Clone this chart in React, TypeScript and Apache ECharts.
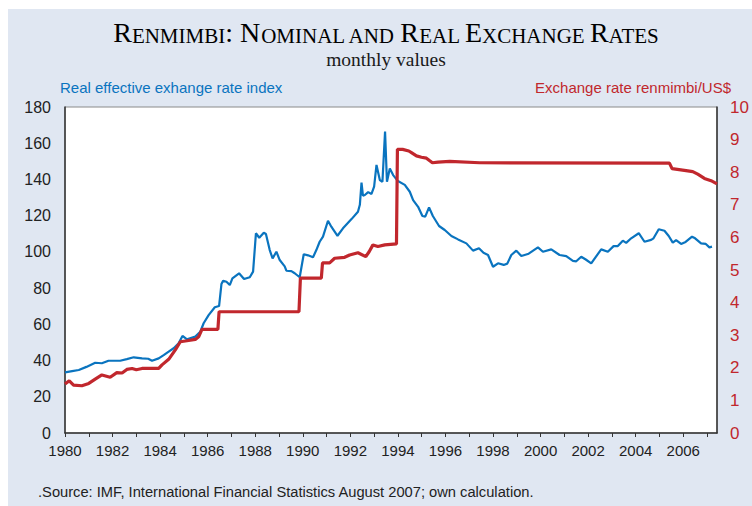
import React, { useEffect, useRef } from "react";
import * as echarts from "echarts";

const realRate: [number, number][] = [
  [1980.0, 33.5], [1980.3, 34.2], [1980.58, 34.8], [1980.9, 36.5], [1981.27, 38.8], [1981.55, 38.5],
  [1981.83, 39.9], [1982.32, 39.9], [1982.6, 40.8], [1982.89, 41.8], [1983.24, 41.2], [1983.5, 41.0],
  [1983.66, 39.9], [1983.94, 41.2], [1984.15, 43.0], [1984.36, 44.9], [1984.57, 46.8], [1984.78, 49.5],
  [1984.94, 53.6], [1985.13, 51.7], [1985.48, 53.2], [1985.69, 55.9], [1985.83, 60.6], [1986.04, 65.1],
  [1986.3, 69.4], [1986.48, 70.1], [1986.58, 82.3], [1986.65, 84.1], [1986.79, 83.5], [1986.93, 81.7],
  [1987.04, 85.4], [1987.32, 88.2], [1987.53, 85.0], [1987.77, 86.0], [1987.91, 89.1], [1988.03, 110.3],
  [1988.17, 107.8], [1988.36, 110.6], [1988.45, 109.9], [1988.61, 101.0], [1988.73, 96.4], [1988.89, 100.1],
  [1989.03, 95.5], [1989.24, 92.0], [1989.31, 89.6], [1989.52, 89.4], [1989.66, 88.2], [1989.87, 86.0],
  [1990.04, 98.7], [1990.22, 98.1], [1990.43, 97.0], [1990.57, 101.0], [1990.71, 105.6], [1990.85, 108.4],
  [1991.06, 117.2], [1991.2, 113.9], [1991.46, 108.9], [1991.69, 113.0], [1992.05, 118.1], [1992.32, 122.2],
  [1992.4, 126.0], [1992.47, 138.2], [1992.53, 131.0], [1992.61, 131.4], [1992.75, 133.0], [1992.89, 132.0],
  [1993.0, 136.0], [1993.1, 148.0], [1993.24, 139.7], [1993.35, 138.7], [1993.46, 166.4], [1993.54, 138.7],
  [1993.66, 146.1], [1993.8, 142.4], [1994.0, 139.1], [1994.29, 137.0], [1994.5, 133.2], [1994.64, 128.6],
  [1994.85, 124.9], [1995.03, 119.8], [1995.15, 119.5], [1995.31, 124.6], [1995.47, 119.8], [1995.73, 114.3],
  [1995.97, 112.1], [1996.25, 108.8], [1996.53, 106.9], [1996.88, 104.7], [1997.16, 100.7], [1997.41, 102.0],
  [1997.6, 99.5], [1997.79, 98.3], [1998.0, 91.8], [1998.21, 93.7], [1998.45, 92.8], [1998.6, 93.5],
  [1998.77, 98.3], [1998.98, 100.7], [1999.19, 97.7], [1999.5, 99.0], [1999.89, 102.5], [2000.1, 100.1],
  [2000.45, 101.4], [2000.8, 98.3], [2001.08, 97.7], [2001.36, 95.0], [2001.5, 94.8], [2001.71, 97.3],
  [2001.9, 95.8], [2002.13, 93.7], [2002.55, 101.4], [2002.83, 100.1], [2003.07, 103.2], [2003.25, 103.2],
  [2003.46, 106.2], [2003.6, 105.0], [2003.81, 107.5], [2004.13, 110.3], [2004.37, 105.6], [2004.65, 106.6],
  [2004.75, 107.5], [2004.97, 112.5], [2005.21, 111.7], [2005.39, 108.8], [2005.56, 105.1], [2005.7, 106.5],
  [2005.91, 104.4], [2006.1, 105.5], [2006.37, 108.4], [2006.5, 107.5], [2006.75, 104.7], [2006.95, 104.4],
  [2007.1, 102.5], [2007.21, 102.9],
];

const nominalRate: [number, number][] = [
  [1980.0, 1.5], [1980.18, 1.6], [1980.36, 1.47], [1980.71, 1.45], [1981.0, 1.52], [1981.27, 1.65],
  [1981.55, 1.78], [1981.9, 1.71], [1982.18, 1.85], [1982.4, 1.84], [1982.6, 1.95], [1982.82, 1.98],
  [1983.0, 1.94], [1983.24, 1.98], [1983.94, 1.98], [1984.08, 2.09], [1984.36, 2.26], [1984.64, 2.55],
  [1984.85, 2.8], [1985.13, 2.83], [1985.48, 2.87], [1985.62, 2.95], [1985.76, 3.18], [1986.43, 3.18],
  [1986.48, 3.72], [1989.84, 3.72], [1989.9, 4.75], [1990.78, 4.75], [1990.83, 5.22], [1991.13, 5.22],
  [1991.34, 5.36], [1991.76, 5.39], [1991.97, 5.46], [1992.32, 5.53], [1992.65, 5.41], [1992.79, 5.56],
  [1992.95, 5.77], [1993.16, 5.72], [1993.45, 5.77], [1993.94, 5.8], [1993.98, 8.7], [1994.2, 8.7],
  [1994.46, 8.65], [1994.57, 8.6], [1994.78, 8.5], [1994.99, 8.46], [1995.2, 8.43], [1995.34, 8.35],
  [1995.45, 8.29], [1995.69, 8.31], [1996.18, 8.33], [1997.44, 8.29], [2005.42, 8.28], [2005.53, 8.11],
  [2006.12, 8.05], [2006.4, 8.02], [2006.61, 7.94], [2006.89, 7.81], [2007.17, 7.74], [2007.42, 7.64],
];

const leftAxisName = "Real effective exhange rate index";
const rightAxisName = "Exchange rate renmimbi/US$";
const subtitle = "monthly values";
const source = ".Source: IMF, International Financial Statistics August 2007; own calculation.";

const BLUE = "#0a74bf";
const RED = "#c1272d";
const SANS = "'Liberation Sans', Arial, sans-serif";
const SERIF = "'Liberation Serif', 'Times New Roman', serif";

export default function App() {
  const ref = useRef<HTMLDivElement>(null);
  useEffect(() => {
    if (!ref.current) return;
    const chart = echarts.init(ref.current, null, { renderer: "svg" });
    const big = { fontFamily: SERIF, fontSize: 28, color: "#1a1a1a", verticalAlign: "bottom", lineHeight: 28 };
    const small = { fontFamily: SERIF, fontSize: 21, color: "#1a1a1a", verticalAlign: "bottom", lineHeight: 27 };
    chart.setOption({
      animation: false,
      backgroundColor: "#e0e7f2",
      graphic: [
        { type: "rect", shape: { x: 0, y: 0, width: 752, height: 9 }, style: { fill: "#fff" }, silent: true },
        { type: "rect", shape: { x: 0, y: 0, width: 8, height: 506 }, style: { fill: "#fff" }, silent: true },
        {
          type: "text",
          x: 386,
          y: 18,
          style: {
            text: "{a|R}{b|ENMIMBI}{a|: N}{b|OMINAL AND }{a|R}{b|EAL }{a|E}{b|XCHANGE }{a|R}{b|ATES}",
            align: "center",
            verticalAlign: "top",
            rich: { a: big, b: small },
          },
        },
        {
          type: "text",
          x: 386,
          y: 59,
          style: { text: subtitle, align: "center", verticalAlign: "middle", font: `19.5px ${SERIF}`, fill: "#1a1a1a" },
        },
        {
          type: "text",
          x: 60,
          y: 87,
          style: { text: leftAxisName, align: "left", verticalAlign: "middle", font: `15px ${SANS}`, fill: BLUE },
        },
        {
          type: "text",
          x: 731,
          y: 87,
          style: { text: rightAxisName, align: "right", verticalAlign: "middle", font: `15px ${SANS}`, fill: RED },
        },
        {
          type: "text",
          x: 38,
          y: 492,
          style: { text: source, align: "left", verticalAlign: "middle", font: `14.7px ${SANS}`, fill: "#222" },
        },
      ],
      grid: {
        left: 65,
        right: 35,
        top: 107,
        bottom: 73,
        show: true,
        backgroundColor: "#ffffff",
        borderColor: "#8a8a8a",
        borderWidth: 1,
      },
      xAxis: {
        type: "value",
        min: 1980,
        max: 2007.42,
        interval: 1,
        splitLine: { show: false },
        axisLine: { show: true, lineStyle: { color: "#333", width: 1.5 } },
        axisTick: { show: true, length: 4, lineStyle: { color: "#333" } },
        axisLabel: {
          showMaxLabel: false,
          margin: 10,
          fontSize: 15,
          fontFamily: SANS,
          color: "#222",
          formatter: (v: number) => (Math.round(v) % 2 === 0 ? String(Math.round(v)) : ""),
        },
      },
      yAxis: [
        {
          type: "value",
          min: 0,
          max: 180,
          interval: 20,
          position: "left",
          splitLine: { show: false },
          axisLine: { show: true, lineStyle: { color: "#333", width: 1.5 } },
          axisTick: { show: false },
          axisLabel: { margin: 14, fontSize: 16, fontFamily: SANS, color: "#222" },
        },
        {
          type: "value",
          min: 0,
          max: 10,
          interval: 1,
          position: "right",
          splitLine: { show: false },
          axisLine: { show: true, lineStyle: { color: "#333", width: 1.5 } },
          axisTick: { show: false },
          axisLabel: { margin: 13, fontSize: 17, fontFamily: SANS, color: RED },
        },
      ],
      series: [
        {
          type: "line",
          name: leftAxisName,
          yAxisIndex: 0,
          data: realRate,
          showSymbol: false,
          lineStyle: { color: BLUE, width: 2.2 },
          itemStyle: { color: BLUE },
        },
        {
          type: "line",
          name: rightAxisName,
          yAxisIndex: 1,
          data: nominalRate,
          showSymbol: false,
          lineStyle: { color: RED, width: 3.2 },
          itemStyle: { color: RED },
        },
      ],
    });
    return () => chart.dispose();
  }, []);
  return <div ref={ref} style={{ position: "absolute", left: 0, top: 0, width: 752, height: 506 }} />;
}
